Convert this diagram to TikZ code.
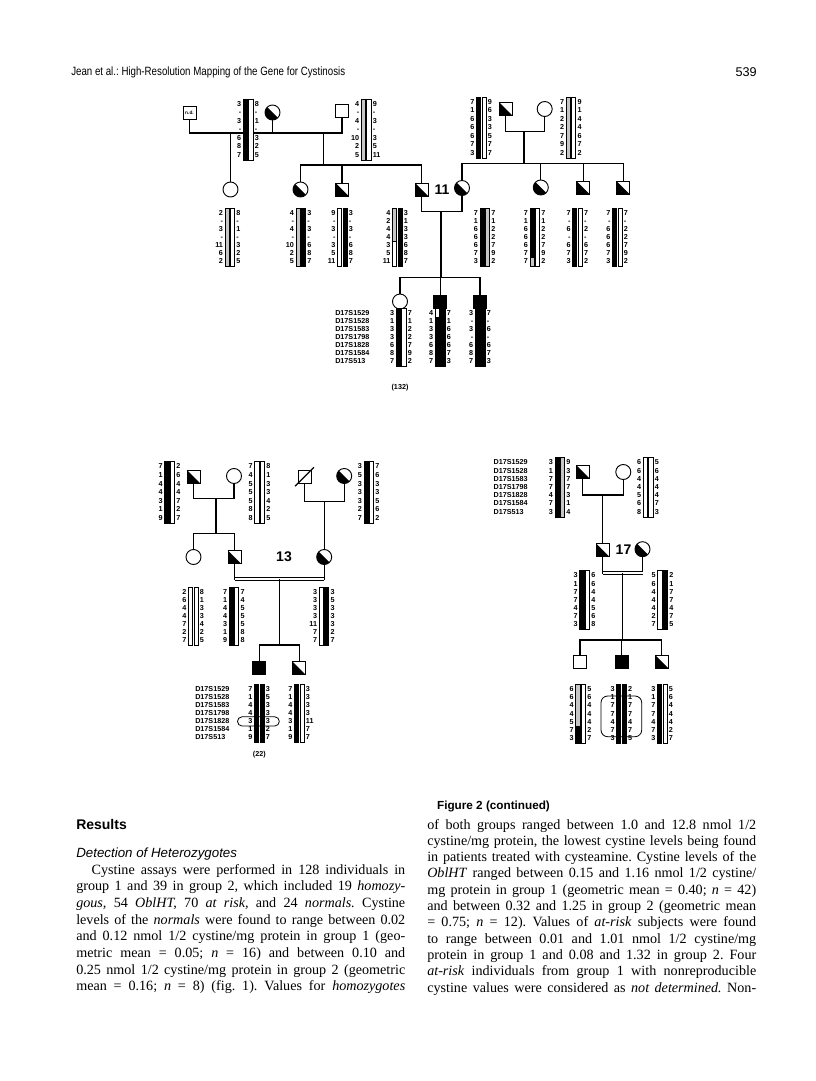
\documentclass[tikz,border=0pt]{standalone}
\usepackage{fontspec}
\usepackage{graphicx}
\setmainfont{Liberation Serif}
\setsansfont{Liberation Sans}
\usetikzlibrary{calc}
\colorlet{lg}{gray!45}
\frenchspacing

\newcommand{\rs}{8.1}
\newlength{\colw}\setlength{\colw}{246.75pt}
\newcommand{\jl}[1]{\makebox[\colw][s]{#1}}

% haplotype: name, x, first row y, left fill, right fill, left alleles, right alleles
\newcommand{\hap}[7]{%
  \filldraw[bar, fill=#4] (#2-4.8,#3-5) rectangle (#2-0.6,#3+6*\rs+5);
  \filldraw[bar, fill=#5] (#2+0.6,#3-5) rectangle (#2+4.8,#3+6*\rs+5);
  \foreach \v [count=\i from 0] in {#6}
    \node[num, anchor=base east] (#1-l\i) at (#2-6.5,#3+\i*\rs+2.2) {\v};
  \foreach \v [count=\i from 0] in {#7}
    \node[num, anchor=base west] (#1-r\i) at (#2+6.5,#3+\i*\rs+2.2) {\v};
}
% marker names
\newcommand{\mks}[3]{%
  \foreach \m [count=\i from 0] in {D17S1529,D17S1528,D17S1583,D17S1798,D17S1828,D17S1584,D17S513}
    \node[num, anchor=base west] (#1-\i) at (#2,#3+\i*\rs+2.2) {\m};
}

\begin{document}
\begin{tikzpicture}[
  x=0.75pt, y=-0.75pt,
  sq/.style={draw, minimum size=9.75pt, inner sep=0, line width=0.7pt},
  ci/.style={circle, draw, minimum size=11.25pt, inner sep=0, line width=0.7pt},
  half/.style={path picture={\fill (path picture bounding box.north west) -- (path picture bounding box.south west) -- (path picture bounding box.south east) -- cycle;}},
  ln/.style={line width=0.85pt},
  dbl/.style={double, double distance=1.4pt, line width=0.55pt},
  bar/.style={line width=0.4pt},
  num/.style={font=\sffamily\bfseries\fontsize{5.4}{6}\selectfont, inner sep=0},
  lab/.style={font=\sffamily\bfseries\fontsize{10.5}{12}\selectfont, inner sep=0},
  txt/.style={font=\fontsize{10.6}{12.7}\selectfont, inner sep=0, anchor=base west},
]
  \fill[white] (0,0) rectangle (816,1081);
  \useasboundingbox (0,0) rectangle (816,1081);

  % running head
  \node[font=\sffamily\fontsize{9}{11}\selectfont, inner sep=0, anchor=base west] (head) at (71,75)
    {\scalebox{0.81}[1]{Jean et al.: High-Resolution Mapping of the Gene for Cystinosis}};
  \node[font=\sffamily\fontsize{9.5}{11}\selectfont, inner sep=0, anchor=base east] (page) at (757,76) {539};

  % ---------------- family 11 ----------------
  \node[sq, font=\sffamily\bfseries\fontsize{3.6}{4}\selectfont] (nd) at (189.5,113) {n.d.};
  \node[ci, half] (gm1) at (272.5,112.5) {};
  \node[sq] (gf2) at (342,111) {};
  \node[sq, half] (gf3) at (505.5,108.7) {};
  \node[ci] (gm3) at (544.7,109) {};

  \node[ci] (a1) at (230.5,189.5) {};
  \node[ci, half] (a2) at (300.5,189.5) {};
  \node[sq, half] (a3) at (342,189.5) {};
  \node[sq, half] (p11) at (421.5,189.5) {};
  \node[lab] (t11) at (442,189.5) {11};
  \node[ci, half] (m11) at (462,188) {};
  \node[ci, half] (a6) at (540.8,187.5) {};
  \node[sq, half] (a7) at (583.3,188) {};
  \node[sq, half] (a8) at (623.3,188) {};

  \node[ci] (c1) at (400,301.5) {};
  \node[sq, fill=black] (c2) at (440.3,301.7) {};
  \node[sq, fill=black] (c3) at (480,301.7) {};

  \coordinate (mA) at (230.5,133);
  \coordinate (mB) at (323.3,133);
  \coordinate (sB) at (323.3,165);
  \coordinate (mC) at (524,131.7);
  \coordinate (sC) at (524,163.3);
  \coordinate (mD) at (441,211.7);
  \coordinate (sD) at (441,277.3);

  \draw[ln] (nd.south) -- (nd.south |- mA) -| (gf2.south);
  \draw[ln] (gm1.south) -- (gm1.south |- mA);
  \draw[ln] (mA) -- (a1.north);
  \draw[ln] (mB) -- (sB);
  \draw[ln] (a2.north) -- (a2.north |- sB) -| (p11.north);
  \draw[ln] (a3.north) -- (a3.north |- sB);
  \draw[ln] (gf3.south) -- (gf3.south |- mC) -| (gm3.south);
  \draw[ln] (mC) -- (sC);
  \draw[ln] (m11.north) -- (m11.north |- sC) -| (a8.north);
  \draw[ln] (a6.north) -- (a6.north |- sC);
  \draw[ln] (a7.north) -- (a7.north |- sC);
  \draw[ln] (p11.south) -- (p11.south |- mD) -| (m11.south);
  \draw[ln] (mD) -- (sD);
  \draw[ln] (c1.north) -- (c1.north |- sD) -| (c3.north);
  \draw[ln] (c2.north) -- (c2.north |- sD);

  \renewcommand{\rs}{8.5}
  \hap{hA}{248}{104}{black}{white}{3,-,3,-,6,8,7}{8,-,1,-,3,2,5}
  \hap{hB}{366}{104}{lg}{white}{4,-,4,-,10,2,5}{9,-,3,-,3,5,11}
  \hap{hC}{481.2}{102}{black}{white}{7,1,6,6,6,7,3}{9,6,3,3,5,7,7}
  \hap{hD}{570.8}{102}{lg}{white}{7,1,2,2,7,9,2}{9,1,4,4,6,7,2}

  \renewcommand{\rs}{8.07}
  \hap{hE}{229.7}{213.3}{lg}{white}{2,-,3,-,11,6,2}{8,-,1,-,3,2,5}
  \hap{hF}{300.7}{213.3}{lg}{black}{4,-,4,-,10,2,5}{3,-,3,-,6,8,7}
  \hap{hG}{342.2}{213.3}{white}{black}{9,-,3,-,3,5,11}{3,-,3,-,6,8,7}
  \hap{hH}{397.2}{213.3}{white}{black}{4,2,4,4,3,5,11}{3,1,3,3,6,8,7}
  \filldraw[bar, fill=lg] (397.2-4.8,208.3) rectangle (397.2-0.6,241.5);
  \hap{hI}{484.7}{213.3}{black}{lg}{7,1,6,6,6,7,3}{7,1,2,2,7,9,2}
  \hap{hJ}{534.7}{213.3}{black}{white}{7,1,6,6,6,7,7}{7,1,2,2,7,9,2}
  \filldraw[bar, fill=lg] (534.7-4.8,257.7) rectangle (534.7-0.6,266.7);
  \hap{hK}{577.3}{213.3}{black}{white}{7,-,6,-,6,7,3}{7,-,2,-,6,7,2}
  \hap{hL}{617.2}{213.3}{black}{white}{7,-,6,6,6,7,3}{7,-,2,2,7,9,2}

  \mks{mkA}{335}{313.3}
  \hap{hM}{401}{313.3}{black}{white}{3,1,3,3,6,8,7}{7,1,2,2,7,9,2}
  \hap{hN}{440}{313.3}{black}{black}{4,1,3,3,6,8,7}{7,1,6,6,6,7,3}
  \filldraw[bar, fill=white] (440-4.8,308.3) rectangle (440-0.6,317.3);
  \hap{hO}{480}{313.3}{black}{black}{3,-,3,-,6,8,7}{7,-,6,-,6,7,3}
  \node[num] (n132) at (400,387.3) {(132)};

  % ---------------- family 13 ----------------
  \node[sq, half] (e1) at (193.7,476.7) {};
  \node[ci] (e2) at (234,476) {};
  \node[sq] (e3) at (304.5,476.7) {};
  \node[ci, half] (e4) at (344.2,476) {};
  \draw[ln] ($(e3.south west)+(-2.5,2.5)$) -- ($(e3.north east)+(2.5,-2.5)$);

  \node[ci] (f1) at (193.5,557) {};
  \node[sq, half] (f2) at (234.5,557) {};
  \node[lab] (t13) at (284,557) {13};
  \node[ci, half] (f3) at (324.2,557) {};

  \node[sq, fill=black] (g1) at (259.3,668.3) {};
  \node[sq, half] (g2) at (299.3,668.3) {};

  \coordinate (m13a) at (216,498.3);
  \coordinate (s13a) at (216,533.3);
  \coordinate (m13b) at (324.2,501.7);
  \coordinate (m13c) at (279.3,579);
  \coordinate (s13c) at (279.3,645);

  \draw[ln] (e1.south) -- (e1.south |- m13a) -| (e2.south);
  \draw[ln] (m13a) -- (s13a);
  \draw[ln] (f1.north) -- (f1.north |- s13a) -| (f2.north);
  \draw[ln] (e3.south) -- (e3.south |- m13b) -| (e4.south);
  \draw[ln] (m13b) -- (f3.north);
  \draw[ln] (f2.south) -- ($(f2.south |- m13c)+(0,1.2)$);
  \draw[ln] (f3.south) -- ($(f3.south |- m13c)+(0,1.2)$);
  \draw[dbl] (f2.south |- m13c) -- (f3.south |- m13c);
  \draw[ln] (m13c) -- (s13c);
  \draw[ln] (g1.north) -- (g1.north |- s13c) -| (g2.north);

  \renewcommand{\rs}{8.6}
  \hap{hP}{169.5}{466.7}{black}{white}{7,1,4,4,3,1,9}{2,6,4,4,7,2,7}
  \hap{hQ}{259.5}{466.7}{white}{white}{7,4,5,5,5,8,8}{8,1,3,3,4,2,5}
  \hap{hR}{368.7}{466.7}{black}{white}{3,5,3,3,3,2,7}{7,6,3,3,5,6,2}
  \renewcommand{\rs}{8}
  \hap{hS}{193.2}{592.5}{white}{white}{2,6,4,4,7,2,7}{8,1,3,3,4,2,5}
  \hap{hT}{233.8}{592.5}{black}{white}{7,1,4,4,3,1,9}{7,4,5,5,5,8,8}
  \hap{hU}{323.8}{592.5}{white}{black}{3,3,3,3,11,7,7}{3,5,3,3,3,2,7}
  \renewcommand{\rs}{8.1}
  \mks{mkB}{195}{689}
  \hap{hV}{259.2}{689}{black}{black}{7,1,4,4,3,1,9}{3,5,3,3,3,2,7}
  \hap{hW}{299.2}{689}{black}{white}{7,1,4,4,3,1,9}{3,3,3,3,11,7,7}
  \draw[bar, line width=0.6pt, rounded corners=3.4pt] (237.5,716.8) rectangle (279.3,726);
  \node[num] (n22) at (259.3,755) {(22)};

  % ---------------- family 17 ----------------
  \node[sq, half] (h1) at (582.7,471.7) {};
  \node[ci] (h2) at (623.3,472) {};
  \node[sq, half] (p17) at (602.7,550) {};
  \node[lab] (t17) at (623.5,550) {17};
  \node[ci, half] (m17) at (642.5,549.2) {};

  \node[sq] (k1) at (580,661.7) {};
  \node[sq, fill=black] (k2) at (621.7,661.7) {};
  \node[sq, half] (k3) at (661.7,661.7) {};

  \coordinate (m17a) at (602.7,495);
  \coordinate (m17b) at (622.5,573);
  \coordinate (s17) at (622.5,640);

  \draw[ln] (h1.south) -- (h1.south |- m17a) -| (h2.south);
  \draw[ln] (m17a) -- (p17.north);
  \draw[ln] (p17.south) -- ($(p17.south |- m17b)+(0,1.2)$);
  \draw[ln] (m17.south) -- ($(m17.south |- m17b)+(0,1.2)$);
  \draw[dbl] (p17.south |- m17b) -- (m17.south |- m17b);
  \draw[ln] (m17b) -- (s17);
  \draw[ln] (k1.north) -- (k1.north |- s17) -| (k3.north);
  \draw[ln] (k2.north) -- (k2.north |- s17);

  \renewcommand{\rs}{8.2}
  \mks{mkC}{493.3}{462.7}
  \hap{hX}{559.7}{462.7}{black}{lg}{3,1,7,7,4,7,3}{9,3,7,7,3,1,4}
  \hap{hY}{648}{462.7}{white}{white}{6,6,4,4,5,6,8}{5,6,4,4,4,7,3}
  \renewcommand{\rs}{8.1}
  \hap{hZ}{584.5}{575.7}{black}{white}{3,1,7,7,4,7,3}{6,6,4,4,5,6,8}
  \hap{hAA}{662.5}{575.7}{white}{black}{5,6,4,4,4,2,7}{2,1,7,7,4,7,5}
  \renewcommand{\rs}{8.2}
  \hap{hBB}{580.5}{689.3}{black}{white}{6,6,4,4,5,7,3}{5,6,4,4,4,2,7}
  \filldraw[bar, fill=lg] (580.5-4.8,684.3) rectangle (580.5-0.6,726.2);
  \hap{hCC}{621.3}{689.3}{black}{black}{3,1,7,7,4,7,3}{2,1,7,7,4,7,5}
  \hap{hDD}{662.2}{689.3}{black}{white}{3,1,7,7,4,7,3}{5,6,4,4,4,2,7}
  \draw[bar, line width=0.6pt, rounded corners=5pt] (601,696) rectangle (641.7,736.7);

  % caption
  \node[font=\sffamily\bfseries\fontsize{8.8}{10}\selectfont, inner sep=0, anchor=base] (cap) at (493.5,809) {Figure 2 (continued)};

  % text
  \node[font=\sffamily\bfseries\fontsize{10.5}{12}\selectfont, inner sep=0, anchor=base west] (res) at (76,829) {Results};
  \node[font=\sffamily\itshape\fontsize{10}{12}\selectfont, inner sep=0, anchor=base west] (det) at (76,857) {Detection of Heterozygotes};

  \node[txt] (l1) at (76,874) {\jl{\hspace*{11.5pt}Cystine assays were performed in 128 individuals in}};
  \node[txt] (l2) at (76,890.7) {\jl{group 1 and 39 in group 2, which included 19 \textit{homozy-}}};
  \node[txt] (l3) at (76,907.4) {\jl{\textit{gous,} 54 \textit{OblHT,} 70 \textit{at risk,} and 24 \textit{normals.} Cystine}};
  \node[txt] (l4) at (76,924.1) {\jl{levels of the \textit{normals} were found to range between 0.02}};
  \node[txt] (l5) at (76,940.8) {\jl{and 0.12 nmol 1/2 cystine/mg protein in group 1 (geo-}};
  \node[txt] (l6) at (76,957.5) {\jl{metric mean = 0.05; \textit{n} = 16) and between 0.10 and}};
  \node[txt] (l7) at (76,974.2) {\jl{0.25 nmol 1/2 cystine/mg protein in group 2 (geometric}};
  \node[txt] (l8) at (76,990.9) {\jl{mean = 0.16; \textit{n} = 8) (fig. 1). Values for \textit{homozygotes}}};

  \node[txt] (r1) at (427,829) {\jl{of both groups ranged between 1.0 and 12.8 nmol 1/2}};
  \node[txt] (r2) at (427,845.3) {\jl{cystine/mg protein, the lowest cystine levels being found}};
  \node[txt] (r3) at (427,861.6) {\jl{in patients treated with cysteamine. Cystine levels of the}};
  \node[txt] (r4) at (427,877.9) {\jl{\textit{OblHT} ranged between 0.15 and 1.16 nmol 1/2 cystine/}};
  \node[txt] (r5) at (427,894.2) {\jl{mg protein in group 1 (geometric mean = 0.40; \textit{n} = 42)}};
  \node[txt] (r6) at (427,910.5) {\jl{and between 0.32 and 1.25 in group 2 (geometric mean}};
  \node[txt] (r7) at (427,926.8) {\jl{= 0.75; \textit{n} = 12). Values of \textit{at-risk} subjects were found}};
  \node[txt] (r8) at (427,943.1) {\jl{to range between 0.01 and 1.01 nmol 1/2 cystine/mg}};
  \node[txt] (r9) at (427,959.4) {\jl{protein in group 1 and 0.08 and 1.32 in group 2. Four}};
  \node[txt] (r10) at (427,975.7) {\jl{\textit{at-risk} individuals from group 1 with nonreproducible}};
  \node[txt] (r11) at (427,992) {\jl{cystine values were considered as \textit{not determined.} Non-}};
\end{tikzpicture}
\end{document}
